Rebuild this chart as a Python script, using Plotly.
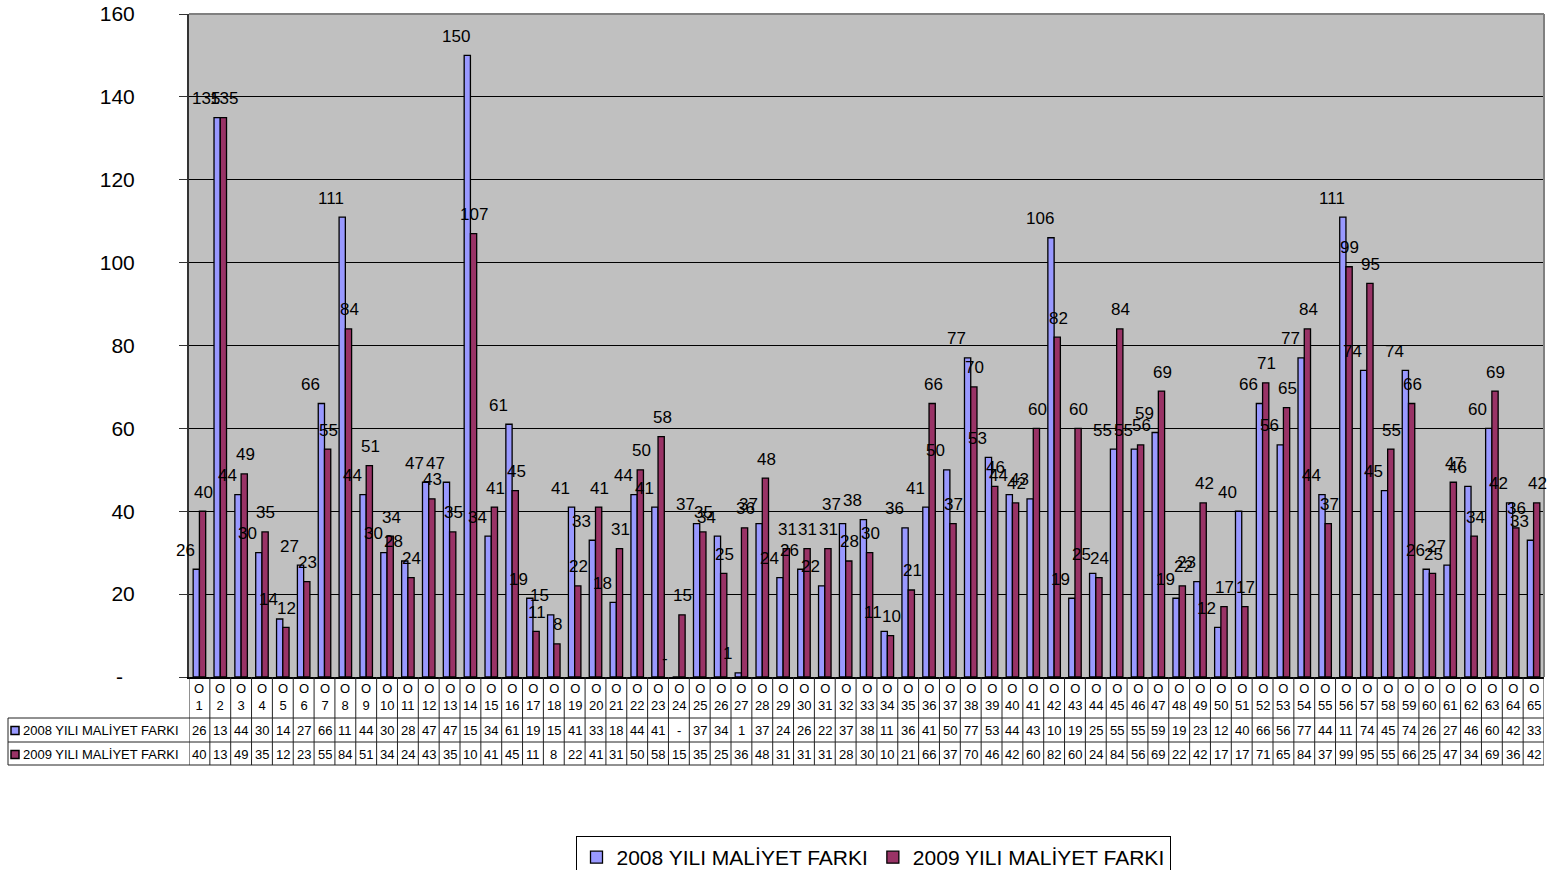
import plotly.graph_objects as go

# ---------------- data ----------------
category_prefix = "O"
category_numbers = list(range(1, 66))

series_names = ["2008 YILI MALİYET FARKI", "2009 YILI MALİYET FARKI"]

values_2008 = [26, 135, 44, 30, 14, 27, 66, 111, 44, 30,
               28, 47, 47, 150, 34, 61, 19, 15, 41, 33,
               18, 44, 41, 0, 37, 34, 1, 37, 24, 26,
               22, 37, 38, 11, 36, 41, 50, 77, 53, 44,
               43, 106, 19, 25, 55, 55, 59, 19, 23, 12,
               40, 66, 56, 77, 44, 111, 74, 45, 74, 26,
               27, 46, 60, 42, 33]

values_2009 = [40, 135, 49, 35, 12, 23, 55, 84, 51, 34,
               24, 43, 35, 107, 41, 45, 11, 8, 22, 41,
               31, 50, 58, 15, 35, 25, 36, 48, 31, 31,
               31, 28, 30, 10, 21, 66, 37, 70, 46, 42,
               60, 82, 60, 24, 84, 56, 69, 22, 42, 17,
               17, 71, 65, 84, 37, 99, 95, 55, 66, 25,
               47, 34, 69, 36, 42]

y_tick_values = [0, 20, 40, 60, 80, 100, 120, 140, 160]
y_tick_labels = ["-\u2007", "20", "40", "60", "80", "100", "120", "140", "160"]

# ---------------- style / layout helpers ----------------
W, H = 1549, 870
PL, PR, PT, PB = 189, 1544, 14, 677   # plot area in pixels
FONT = "Liberation Sans, Arial, sans-serif"
C2008 = "#9999FF"
C2009 = "#993366"


def px(p):
    return (p - PL) / (PR - PL)


def py(p):
    return (PB - p) / (PB - PT)


def lab(v):
    return "-" if v == 0 else str(v)


def cell(v):
    return "-" if v == 0 else str(v)[:2]


fig = go.Figure()
fig.add_trace(go.Bar(x=category_numbers, y=values_2008, name=series_names[0],
                     marker=dict(color=C2008, line=dict(color="black", width=1.3))))
fig.add_trace(go.Bar(x=category_numbers, y=values_2009, name=series_names[1],
                     marker=dict(color=C2009, line=dict(color="black", width=1.3))))

annotations = []
# data labels
for xv, v in zip(category_numbers, values_2008):
    annotations.append(dict(x=xv, y=v, xref="x", yref="y", text=lab(v), showarrow=False,
                            xshift=-14, yshift=19, yanchor="middle",
                            font=dict(family=FONT, size=17, color="black")))
for xv, v in zip(category_numbers, values_2009):
    annotations.append(dict(x=xv, y=v, xref="x", yref="y", text=lab(v), showarrow=False,
                            xshift=4, yshift=19, yanchor="middle",
                            font=dict(family=FONT, size=17, color="black")))

# data table text
tfont = dict(family=FONT, size=13, color="black")
for i, xv in enumerate(category_numbers):
    annotations.append(dict(x=xv, y=py(697.5), xref="x", yref="paper",
                            text=f"{category_prefix}<br>{xv}", showarrow=False,
                            yanchor="middle", font=tfont))
    annotations.append(dict(x=xv, y=py(730.5), xref="x", yref="paper",
                            text=cell(values_2008[i]), showarrow=False,
                            yanchor="middle", font=tfont))
    annotations.append(dict(x=xv, y=py(754.5), xref="x", yref="paper",
                            text=cell(values_2009[i]), showarrow=False,
                            yanchor="middle", font=tfont))
for name, yy in zip(series_names, [730.5, 754.5]):
    annotations.append(dict(x=px(21), y=py(yy), xref="paper", yref="paper",
                            text=name, showarrow=False, xanchor="left",
                            yanchor="middle", font=tfont))

shapes = []
# table vertical lines at category boundaries
for k in range(len(category_numbers) + 1):
    shapes.append(dict(type="line", xref="x", yref="paper",
                       x0=k + 0.5, x1=k + 0.5, y0=py(765), y1=0,
                       line=dict(color="#222", width=1)))
# table horizontal lines
for yy in [718, 742, 765]:
    shapes.append(dict(type="line", xref="paper", yref="paper",
                       x0=px(8), x1=1, y0=py(yy), y1=py(yy),
                       line=dict(color="#222", width=1)))
shapes.append(dict(type="line", xref="paper", yref="paper",
                   x0=px(8), x1=px(8), y0=py(718), y1=py(765),
                   line=dict(color="#222", width=1)))
# legend keys in table
for col, yy in zip([C2008, C2009], [730.5, 754.5]):
    shapes.append(dict(type="rect", xref="paper", yref="paper",
                       x0=px(11), x1=px(19), y0=py(yy - 4), y1=py(yy + 4),
                       fillcolor=col, line=dict(color="black", width=1.5)))
# plot area top/right border (grey)
shapes.append(dict(type="line", xref="paper", yref="paper", x0=0, x1=1, y0=1, y1=1,
                   line=dict(color="#808080", width=2)))
shapes.append(dict(type="line", xref="paper", yref="paper", x0=1, x1=1, y0=0, y1=1,
                   line=dict(color="#808080", width=2)))

fig.update_layout(
    width=W, height=H,
    margin=dict(l=PL, r=W - PR, t=PT, b=H - PB, pad=0, autoexpand=False),
    paper_bgcolor="white",
    plot_bgcolor="#C0C0C0",
    barmode="group",
    bargap=0.4,
    bargroupgap=0,
    font=dict(family=FONT, color="black"),
    showlegend=True,
    legend=dict(orientation="h", x=px(873), xanchor="center", y=py(836), yanchor="top",
                bgcolor="white", bordercolor="black", borderwidth=1,
                font=dict(family=FONT, size=21, color="black"),
                itemwidth=30, tracegroupgap=0),
    annotations=annotations,
    shapes=shapes,
    xaxis=dict(range=[0.5, len(category_numbers) + 0.5], showticklabels=False,
               showgrid=False, zeroline=False, showline=True, linecolor="black",
               linewidth=1.5, ticks=""),
    yaxis=dict(range=[0, 160], tickvals=y_tick_values, ticktext=y_tick_labels,
               showgrid=True, gridcolor="black", gridwidth=1, zeroline=False,
               showline=True, linecolor="#333", linewidth=2,
               ticks="outside", ticklen=8, tickcolor="#333", tickwidth=1,
               ticklabelstandoff=40,
               tickfont=dict(family=FONT, size=21, color="black")),
)

fig.write_html("out.html")
